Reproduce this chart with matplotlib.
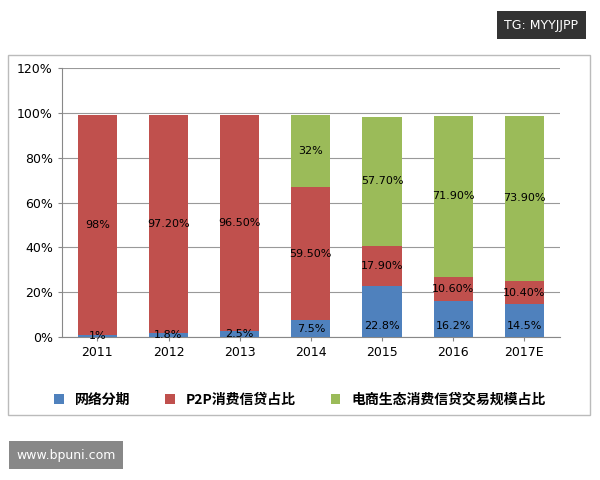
import matplotlib
matplotlib.use("Agg")
import matplotlib.pyplot as plt
from matplotlib.patches import Rectangle
from matplotlib import font_manager as fm
import numpy as np

years = ["2011", "2012", "2013", "2014", "2015", "2016", "2017E"]
blue = [1, 1.8, 2.5, 7.5, 22.8, 16.2, 14.5]
red = [98, 97.2, 96.5, 59.5, 17.9, 10.6, 10.4]
green = [0, 0, 0, 32, 57.7, 71.9, 73.9]
blue_lbl = ["1%", "1.8%", "2.5%", "7.5%", "22.8%", "16.2%", "14.5%"]
red_lbl = ["98%", "97.20%", "96.50%", "59.50%", "17.90%", "10.60%", "10.40%"]
green_lbl = ["", "", "", "32%", "57.70%", "71.90%", "73.90%"]
names = ["网络分期", "P2P消费信贷占比", "电商生态消费信贷交易规模占比"]
cols = ["#4F81BD", "#C0504D", "#9BBB59"]

cjk_path = None
for f in fm.findSystemFonts():
    if "CJK" in f and ("SC" in f or "Sans" in f):
        cjk_path = f
        if "SC" in f:
            break
cjk = fm.FontProperties(fname=cjk_path, size=10) if cjk_path else fm.FontProperties(family="Noto Sans CJK SC", size=10)

fig = plt.figure(figsize=(6, 4.8), dpi=100)
fig.patches.append(Rectangle((8/600, 1-415/480), 582/600, 360/480, transform=fig.transFigure,
                             fill=False, edgecolor="#bbbbbb", lw=1))
ax = fig.add_axes([0.103, 0.298, 0.83, 0.56])
x = np.arange(len(years))
b = np.array(blue); r = np.array(red); g = np.array(green)
w = 0.55
ax.bar(x, b, w, color=cols[0], label=names[0], zorder=3)
ax.bar(x, r, w, bottom=b, color=cols[1], label=names[1], zorder=3)
ax.bar(x, g, w, bottom=b + r, color=cols[2], label=names[2], zorder=3)
for i in range(len(years)):
    ax.text(x[i], min(b[i] / 2, 5), blue_lbl[i], ha="center", va="center", fontsize=8, zorder=4)
    ax.text(x[i], b[i] + r[i] / 2, red_lbl[i], ha="center", va="center", fontsize=8, zorder=4)
    if green_lbl[i]:
        ax.text(x[i], b[i] + r[i] + g[i] / 2, green_lbl[i], ha="center", va="center", fontsize=8, zorder=4)
ax.set_ylim(0, 120)
ax.set_yticks(range(0, 121, 20))
ax.set_yticklabels([f"{v}%" for v in range(0, 121, 20)], fontsize=9)
ax.set_xticks(x)
ax.set_xticklabels(years, fontsize=9)
ax.set_xlim(-0.5, len(years) - 0.5)
ax.yaxis.grid(True, color="#999999", lw=0.8, zorder=0)
for s in ["top", "right"]:
    ax.spines[s].set_visible(False)
ax.spines["left"].set_color("#888888")
ax.spines["bottom"].set_color("#888888")
ax.tick_params(axis="both", length=3, color="#888888")
fig.legend(loc="center", bbox_to_anchor=(0.5, 1 - 400/480), ncol=3, frameon=False,
           prop=cjk, handlelength=0.7, handleheight=0.7, columnspacing=2.5)
fig.text(541/600, 1 - 25/480, "TG: MYYJJPP", ha="center", va="center", color="white", fontsize=9,
         bbox=dict(boxstyle="square,pad=0.6", fc="#333333", ec="none"))
fig.text(66/600, 1 - 455/480, "www.bpuni.com", ha="center", va="center", color="white", fontsize=9,
         bbox=dict(boxstyle="square,pad=0.6", fc="#888888", ec="none"))
fig.savefig("out.png", dpi=100)
